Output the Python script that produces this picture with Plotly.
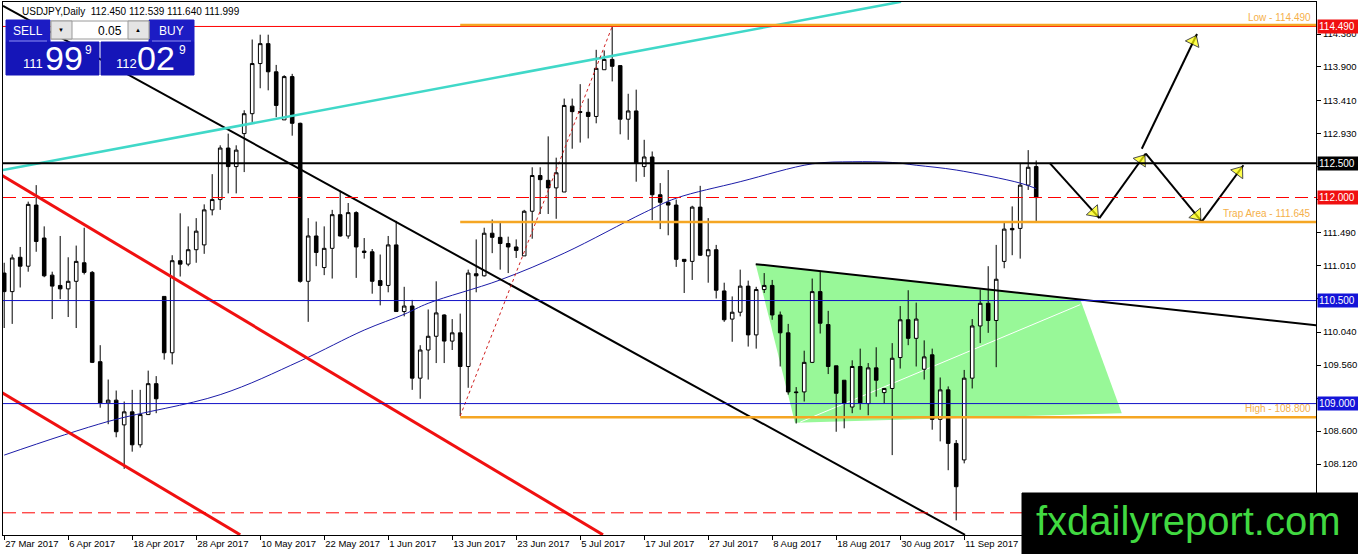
import pandas as pd
import plotly.graph_objects as go

# USDJPY daily candles, 27 Mar 2017 - 22 Sep 2017
dates = pd.bdate_range("2017-03-27", periods=130)

opens = [
    110.90, 110.63, 111.13, 111.00, 111.89,
    111.41, 110.87, 110.72, 110.67, 110.78,
    111.05, 110.91, 109.61, 109.01, 109.05,
    108.69, 108.88, 108.40, 108.84, 109.29,
    110.56, 109.74, 111.08, 111.03, 111.24,
    111.31, 111.82, 111.97, 112.72, 112.45,
    112.93, 113.22, 113.95, 114.24, 113.83,
    113.13, 113.76, 113.08, 110.78, 111.44,
    110.98, 111.26, 111.75, 111.44, 111.78,
    111.22, 111.21, 110.79, 110.72, 111.31,
    110.34, 110.42, 109.37, 109.78, 109.98,
    110.29, 109.91, 110.03, 109.54, 110.89,
    110.86, 111.48, 111.42, 111.33, 111.28,
    111.15, 111.80, 112.32, 112.25, 112.14,
    112.08, 113.33, 113.25, 113.24, 113.18,
    113.86, 114.01, 113.92, 113.14, 113.26,
    112.45, 112.59, 112.04, 111.93, 111.89,
    111.10, 111.07, 111.86, 111.15, 111.24,
    110.64, 110.23, 110.33, 110.71, 110.00,
    110.66, 110.72, 110.29, 110.03, 109.17,
    109.17, 109.60, 110.63, 110.15, 109.55,
    109.34, 108.95, 109.54, 109.00, 109.52,
    109.16, 109.22, 109.67, 110.22, 109.95,
    109.50, 109.71, 108.77, 109.20, 108.42,
    108.18, 109.37, 110.13, 110.46, 110.21,
    111.07, 111.55, 111.55, 112.18, 112.450,
]
highs = [
    111.05, 111.17, 111.28, 111.94, 112.18,
    111.58, 110.92, 111.44, 111.13, 111.30,
    111.56, 110.93, 109.85, 109.35, 109.19,
    109.03, 109.20, 109.20, 109.48, 109.40,
    110.56, 111.16, 111.77, 111.58, 111.70,
    111.90, 112.34, 112.76, 112.93, 112.76,
    113.27, 114.30, 114.37, 114.37, 113.93,
    113.78, 113.80, 113.09, 111.70, 111.65,
    111.58, 111.82, 112.10, 111.92, 111.80,
    111.41, 111.25, 111.17, 111.44, 111.66,
    110.70, 110.51, 109.85, 110.37, 110.78,
    110.30, 110.23, 110.31, 110.95, 111.39,
    111.56, 111.68, 111.63, 111.43, 111.39,
    111.82, 112.44, 112.44, 112.89, 112.58,
    113.44, 113.44, 113.65, 113.44, 114.15,
    114.14, 114.49, 113.92, 113.51, 113.57,
    112.84, 112.67, 112.21, 112.40, 111.97,
    111.10, 111.88, 112.17, 111.70, 111.31,
    110.76, 110.56, 110.95, 110.79, 110.70,
    110.90, 110.80, 110.34, 110.16, 109.24,
    109.77, 110.82, 110.92, 110.35, 109.55,
    109.34, 109.63, 109.80, 109.59, 109.82,
    109.22, 109.88, 110.42, 110.65, 110.47,
    109.92, 109.80, 109.38, 109.25, 108.47,
    109.49, 110.23, 110.66, 111.00, 111.31,
    111.63, 111.87, 112.50, 112.69, 112.539,
]
lows = [
    110.10, 110.16, 110.69, 110.92, 111.21,
    110.84, 110.23, 110.52, 110.26, 110.10,
    110.88, 109.59, 108.94, 108.70, 108.51,
    108.05, 108.30, 108.36, 108.84, 108.86,
    109.64, 109.57, 110.85, 111.00, 111.05,
    111.18, 111.74, 111.82, 112.06, 112.06,
    112.37, 113.10, 113.59, 113.56, 113.17,
    113.13, 112.90, 110.76, 110.19, 111.00,
    110.87, 110.82, 111.43, 111.40, 110.83,
    111.11, 110.60, 110.43, 110.62, 110.34,
    110.27, 109.20, 109.07, 109.35, 109.59,
    109.59, 109.78, 108.82, 109.23, 110.62,
    110.85, 111.19, 110.95, 110.90, 111.12,
    111.15, 111.40, 111.76, 111.76, 111.69,
    112.08, 112.71, 112.80, 112.86, 113.08,
    113.86, 113.69, 112.92, 112.84, 112.23,
    112.30, 111.67, 111.54, 111.45, 110.99,
    110.61, 110.80, 111.15, 110.76, 110.53,
    110.19, 109.90, 110.27, 109.83, 109.80,
    110.61, 110.22, 109.54, 109.13, 108.71,
    109.03, 109.59, 110.02, 109.43, 108.59,
    108.64, 108.86, 108.91, 108.83, 109.10,
    109.00, 108.25, 109.51, 109.85, 109.54,
    109.35, 108.62, 108.45, 108.03, 107.30,
    108.13, 109.22, 109.88, 110.03, 109.53,
    110.97, 111.16, 111.11, 112.11, 111.640,
]
closes = [
    110.63, 111.12, 111.00, 111.90, 111.36,
    110.86, 110.71, 110.67, 110.78, 111.07,
    110.91, 109.60, 109.01, 109.05, 108.59,
    108.88, 108.40, 108.84, 109.29, 109.07,
    109.74, 111.08, 111.03, 111.24, 111.51,
    111.82, 111.97, 112.72, 112.45, 112.69,
    113.22, 113.95, 114.24, 113.83, 113.34,
    113.76, 113.08, 110.78, 111.44, 111.20,
    111.26, 111.75, 111.44, 111.78, 111.28,
    111.20, 110.78, 110.72, 111.31, 110.34,
    110.42, 109.37, 109.78, 109.98, 110.32,
    109.91, 110.03, 109.54, 110.90, 110.86,
    111.48, 111.42, 111.33, 111.28, 111.23,
    111.80, 112.32, 112.26, 112.14, 112.36,
    113.34, 113.25, 113.24, 113.18, 113.88,
    114.01, 113.91, 113.14, 113.26, 112.50,
    112.59, 112.04, 111.93, 111.89, 111.10,
    111.07, 111.86, 111.16, 111.24, 110.65,
    110.22, 110.33, 110.71, 110.00, 110.66,
    110.72, 110.29, 110.03, 109.17, 109.16,
    109.60, 110.63, 110.17, 109.54, 109.15,
    109.00, 109.54, 109.01, 109.52, 109.34,
    109.22, 109.66, 110.22, 109.95, 110.23,
    109.68, 108.77, 109.20, 108.42, 107.79,
    109.37, 110.13, 110.46, 110.21, 110.81,
    111.54, 111.53, 112.18, 112.44, 111.999,
]

# moving average (blue curve), sampled at some bars
ma_bars = [0, 13, 27, 37, 45, 50, 53, 62, 70, 80, 84, 92, 101, 106, 111, 114, 119, 127, 129]
ma_values = [108.25, 108.74, 109.13, 109.62, 110.07, 110.30, 110.46, 110.80, 111.19, 111.78,
             111.99, 112.23, 112.49, 112.52, 112.51, 112.47, 112.40, 112.21, 112.13]

ytick_vals = [114.38, 113.90, 113.41, 112.93, 112.45, 111.97, 111.49, 111.01,
              110.53, 110.04, 109.56, 109.08, 108.60, 108.12, 107.64]
hidden_ticks = [112.45, 111.97, 110.53, 109.08]  # covered by the price tags

# drawn objects (bar index, price)
black_trend = ([-0.15, 120.1], [114.79, 107.09])
cyan_trend = ([-0.15, 112.1], [112.40, 114.85])
red_upper = ([-0.55, 74.85], [112.34, 107.09])
red_lower = ([-0.55, 29.5], [109.18, 107.09])
wedge_top = ([93.94, 164.0], [111.03, 110.14])
wedge_fill = ([93.94, 134.5, 139.7, 98.85], [111.03, 110.52, 108.86, 108.72])
wedge_mid = ([99.5, 134.5], [108.73, 110.44])
dotted_swing = ([57, 76], [108.82, 114.49])
zigzag_x = [130.7, 136.9, 142.7, 149.7, 154.9]
zigzag_y = [112.50, 111.70, 112.64, 111.65, 112.47]
breakout = ([142.2, 149.1], [112.71, 114.38])

orange_levels = [114.490, 111.645, 108.800]
orange_names = ["Low", "Trap Area", "High"]
orange_start = 57

XR = [-0.15, 163.975]
YR = [107.087, 114.846]
PX_PER_BAR = 8.0
PX_PER_UNIT = 533 / (YR[1] - YR[0])


def px_x(px):
    return (px - 3) / 1313


def px_y(py):
    return (535 - py) / 533


fig = go.Figure()
shapes = []
annos = []

# green wedge area sits behind the candles
path = "M " + " L ".join(f"{x},{y}" for x, y in zip(*wedge_fill)) + " Z"
shapes.append(dict(type="path", xref="x", yref="y", path=path, fillcolor="#98F898",
                   line=dict(width=0), layer="below"))
shapes.append(dict(type="line", xref="x", yref="y", x0=wedge_mid[0][0], x1=wedge_mid[0][1],
                   y0=wedge_mid[1][0], y1=wedge_mid[1][1], line=dict(color="white", width=1),
                   layer="below"))

fig.add_trace(go.Candlestick(
    x=list(range(len(dates))), open=opens, high=highs, low=lows, close=closes,
    increasing=dict(fillcolor="white", line=dict(color="black", width=1)),
    decreasing=dict(fillcolor="black", line=dict(color="black", width=1)),
    whiskerwidth=0,
))

fig.add_trace(go.Scatter(x=ma_bars, y=ma_values, mode="lines", line_shape="spline",
                         line=dict(color="#1c1ca8", width=1), hoverinfo="skip"))

for xs, ys, col, w, dash in [
    (black_trend[0], black_trend[1], "black", 2, "solid"),
    (cyan_trend[0], cyan_trend[1], "#40D8C8", 2.5, "solid"),
    (red_upper[0], red_upper[1], "#F01010", 3, "solid"),
    (red_lower[0], red_lower[1], "#F01010", 3, "solid"),
    (wedge_top[0], wedge_top[1], "black", 2, "solid"),
    (dotted_swing[0], dotted_swing[1], "#D02020", 1, "dot"),
]:
    fig.add_trace(go.Scatter(x=xs, y=ys, mode="lines", line=dict(color=col, width=w, dash=dash),
                             hoverinfo="skip"))

# projected path with yellow arrow heads
segments = [((zigzag_x[k], zigzag_y[k]), (zigzag_x[k + 1], zigzag_y[k + 1])) for k in range(4)]
segments.append(((breakout[0][0], breakout[1][0]), (breakout[0][1], breakout[1][1])))
for (x0, y0), (x1, y1) in segments:
    L = (((x1 - x0) * PX_PER_BAR) ** 2 + ((y1 - y0) * PX_PER_UNIT) ** 2) ** 0.5
    f = 1 - 8 / L
    xq, yq = x0 + f * (x1 - x0), y0 + f * (y1 - y0)
    fig.add_trace(go.Scatter(
        x=[x0, xq, x1], y=[y0, yq, y1], mode="lines+markers",
        line=dict(color="black", width=2),
        marker=dict(symbol="triangle-up", size=[0, 13, 0], angleref="previous",
                    color="#FFFF00", line=dict(color="black", width=[0, 1, 0])),
        hoverinfo="skip"))


# horizontal levels
def hline(y, color, width, dash="solid", x0=0, xref="paper"):
    shapes.append(dict(type="line", xref=xref, yref="y", x0=x0, x1=1 if xref == "paper" else XR[1],
                       y0=y, y1=y, line=dict(color=color, width=width, dash=dash), layer="above"))


hline(114.49, "#FF0000", 1)
hline(112.50, "black", 2)
hline(112.00, "#FF0000", 1, "13px,6px")
hline(110.50, "#1010C8", 1)
hline(109.00, "#1010C8", 1)
hline(107.41, "#FF0000", 1, "13px,6px")
for lvl, name in zip(orange_levels, orange_names):
    hline(lvl + (0.02 if name == "Low" else 0), "#F5A623", 2.5, x0=orange_start, xref="x")
    annos.append(dict(xref="paper", yref="y", x=0.998, y=lvl + 0.02, xanchor="right", yanchor="bottom",
                      text=f"{name} - {lvl:.3f}", showarrow=False,
                      font=dict(family="Liberation Sans", size=10, color="#F5B04A")))

# price tags on the right axis
for lvl, bg in [(114.49, "#F01010"), (112.50, "black"), (112.00, "#F01010"),
                (110.50, "#1414D8"), (109.00, "#1414D8")]:
    annos.append(dict(xref="paper", yref="y", x=px_x(1317), y=lvl, xanchor="left", yanchor="middle",
                      text=f"{lvl:.3f}", showarrow=False, bgcolor=bg, width=38, align="left",
                      borderpad=1, font=dict(family="Liberation Sans", size=10, color="white")))

# header
annos.append(dict(xref="paper", yref="paper", x=px_x(20), y=px_y(11), xanchor="left", yanchor="middle",
                  text="USDJPY,Daily  112.450 112.539 111.640 111.999", showarrow=False,
                  font=dict(family="Liberation Sans", size=10, color="black")))


# one-click trading panel
def rect(x0, y0, x1, y1, fill, line=None):
    shapes.append(dict(type="rect", xref="paper", yref="paper", x0=px_x(x0), x1=px_x(x1),
                       y0=px_y(y1), y1=px_y(y0), fillcolor=fill, layer="above",
                       line=dict(color=line or fill, width=1)))


def label(x, y, text, size, color="white", anchor="center"):
    annos.append(dict(xref="paper", yref="paper", x=px_x(x), y=px_y(y), xanchor=anchor,
                      yanchor="middle", text=text, showarrow=False,
                      font=dict(family="Liberation Sans", size=size, color=color)))


rect(6, 20, 50, 42, "#1c1cc4")
rect(149, 20, 194, 42, "#1c1cc4")
rect(6, 42, 99, 75, "#1515b8")
rect(101, 42, 194, 75, "#1515b8")
for xa, xb in [(9, 47), (152, 191)]:
    shapes.append(dict(type="line", xref="paper", yref="paper", x0=px_x(xa), x1=px_x(xb),
                       y0=px_y(41), y1=px_y(41), line=dict(color="#8c8cf0", width=1), layer="above"))
rect(51, 21, 149, 39, "white", "#9a9a9a")
rect(51, 21, 72, 39, "#e4e4e4", "#9a9a9a")
rect(128, 21, 149, 39, "#e4e4e4", "#9a9a9a")

label(28, 31, "SELL", 12)
label(171, 31, "BUY", 12)
label(124, 31, "0.05", 12, "black", "right")
label(61, 30, "▼", 6, "black")
label(138, 30, "▲", 6, "black")
label(33, 63, "111", 13)
label(64, 58, "99", 34)
label(88, 50, "9", 12)
label(126, 63, "112", 13)
label(156, 58, "02", 34)
label(182, 50, "9", 12)

# watermark
rect(1022, 493, 1358, 554, "black")
label(1188, 521, "fxdailyreport.com", 40, "#41D941")

fig.update_layout(
    width=1358, height=554,
    margin=dict(l=3, r=42, t=2, b=19),
    paper_bgcolor="white", plot_bgcolor="white",
    showlegend=False, boxgap=0.36,
    shapes=shapes, annotations=annos,
    font=dict(family="Liberation Sans", size=10, color="black"),
)
# date labels every 8 bars; the one under the watermark is left out
xt = list(range(0, 121, 8))
fig.update_xaxes(
    range=XR, rangeslider_visible=False, showgrid=False, zeroline=False,
    showline=True, linecolor="black", linewidth=1, mirror=True,
    ticks="outside", ticklen=4, tickcolor="black",
    tickvals=xt,
    ticktext=[dates[i].strftime("%-d %b %Y") for i in xt],
    ticklabelposition="outside right",
    tickfont=dict(family="Liberation Sans", size=9.5, color="black"),
)
fig.update_yaxes(
    range=YR, side="right", showgrid=False, zeroline=False,
    showline=True, linecolor="black", linewidth=1, mirror=True,
    ticks="outside", ticklen=4, tickcolor="black",
    tickvals=ytick_vals,
    ticktext=["" if v in hidden_ticks else f"{v:.3f}" for v in ytick_vals],
    tickfont=dict(family="Liberation Sans", size=9.5, color="black"),
)

fig.write_html("out.html", config={"displayModeBar": False},
               post_script="document.body.style.margin='0';")
